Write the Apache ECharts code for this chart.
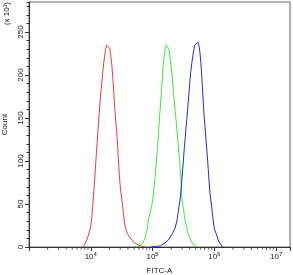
<!DOCTYPE html>
<html>
<head>
<meta charset="utf-8">
<script src="https://cdn.jsdelivr.net/npm/echarts@6/dist/echarts.min.js"></script>
<style>
html,body{margin:0;padding:0;background:#fff;}
#chart{width:293px;height:275px;}
</style>
</head>
<body>
<div id="chart"></div>
<script>
// FITC-A values (x) and counts (y, in units of x10^1)
var redX = [7440,8010,8630,9290,10000,10380,10770,11170,11590,12030,12490,12960,13440,13950,14480,15020,15590,16180,16790,17420,18080,18760,19470,20200,20960,21750,22570,23420,24300,25220,26170,27150,28180,29240,30340,31480,32670,33900,35140,36460,39260,43860,48990,54740,63470,76360];
var redY = [0,3.5,8.1,15.1,24.4,33.7,48.8,64,80.2,97.7,115.1,131.4,147.7,164,177.9,190.7,202.3,214,222.1,230.2,234.9,237.2,236,231.4,223.3,214,200,182.6,165.1,147.7,136,118.6,97.7,80.2,66.3,58.1,48.8,37.2,29.1,22.1,15.1,10.5,5.8,3.5,1.2,0];

var greenX = [54740,63470,70910,76360,82210,85310,91850,98890,102600,106500,110500,114700,119000,123500,128100,133000,138000,143200,148600,154200,160000,166000,172300,178700,185500,192500,199700,207300,215100,223200,231600,240300,249400,258800,268500,278600,289100,300000,311300,323100,335200,347900,374600,403300,434300,467600,522500];
var greenY = [0,1.2,5.8,11.6,22.1,31.4,40.7,51.2,59.3,72.1,83.7,97.7,112.8,127.9,144.2,161.6,176.7,194.2,210.5,222.1,230.2,234.9,236,234.9,229.1,219.8,210.5,200,184.9,170.9,159.3,147.7,133.7,120.9,107,95.3,75.6,54.7,46.5,39.5,31.4,26.7,16.3,10.5,4.7,2.3,0];

var blueX = [91850,110500,133000,148600,166000,185500,207300,231600,249400,258800,268500,278600,289100,300000,311300,323100,335200,347900,361000,374600,388700,403300,418500,434300,450700,467600,485200,503500,522500,542200,562600,583800,605800,628600,652300,676900,702400,728900,756300,784800,814400,845100,876900,909900,944200,979800,1016800,1092600,1133700,1220500,1364000];
var blueY = [0,0.5,1.2,3.5,5.8,9.3,15.1,22.1,31.4,39.5,47.7,54.7,66.3,80.2,95.3,110.5,124.4,138.4,151.2,165.1,179.1,194.2,205.8,215.1,223.3,230.2,234.9,233.7,237.2,238.4,234.9,226.7,214,196.5,176.7,157,141.9,126.7,112.8,97.7,80.2,64,54.7,45.3,34.9,25.6,19.8,14,9.3,4.7,0];

var minorTickValues = [2000,3000,4000,5000,6000,7000,8000,9000,20000,30000,40000,50000,60000,70000,80000,90000,200000,300000,400000,500000,600000,700000,800000,900000,2000000,3000000,4000000,5000000,6000000,7000000,8000000,9000000];
var xLabelExponents = [4,5,6,7];

function zip(xs, ys){ return xs.map(function(x,i){ return [x, ys[i]]; }); }

var chart = echarts.init(document.getElementById('chart'), null, {renderer:'canvas'});
var font = 'Liberation Sans, Arial, sans-serif';
chart.setOption({
  animation: false,
  textStyle: {fontFamily: font},
  grid: {left: 29, right: 3, top: 2, bottom: 28, show: true, borderColor: '#666', borderWidth: 1, containLabel: false, outerBoundsMode: 'none'},
  xAxis: {
    type: 'log', logBase: 10, min: 1000, max: 16777216,
    name: 'FITC-A', nameLocation: 'middle', nameGap: 20,
    nameTextStyle: {fontSize: 8, color: '#222', fontFamily: font},
    axisLine: {show: true, onZero: false, lineStyle: {color: '#333', width: 1}},
    axisTick: {show: true, length: 4, lineStyle: {color: '#333'}},
    splitLine: {show: false},
    axisLabel: {
      margin: 4, hideOverlap: false,
      formatter: function(v){
        var e = Math.round(Math.log10(v));
        if (xLabelExponents.indexOf(e) < 0 || Math.abs(Math.log10(v) - e) > 0.01) return '';
        return '{b|10}{s|' + e + '}';
      },
      rich: {
        b: {fontSize: 8, color: '#222', fontFamily: font},
        s: {fontSize: 6, color: '#222', fontFamily: font, padding: [0,0,5,0]}
      }
    }
  },
  yAxis: [{
    type: 'value', min: 0, max: 285, interval: 50,
    name: 'Count', nameLocation: 'middle', nameGap: 20, nameRotate: 90,
    nameTextStyle: {fontSize: 8, color: '#222', fontFamily: font},
    axisLine: {show: true, lineStyle: {color: '#333', width: 1}},
    axisTick: {show: true, length: 4, lineStyle: {color: '#333'}},
    splitLine: {show: false},
    axisLabel: {rotate: 90, hideOverlap: false, showMaxLabel: false, fontSize: 8, color: '#222', margin: 4, fontFamily: font,
      formatter: function(v){ return v % 50 === 0 ? String(v) : ''; }}
  }, {
    type: 'value', min: 0, max: 285, interval: 10, position: 'left',
    axisLine: {show: false},
    axisTick: {show: true, length: 2.5, lineStyle: {color: '#333'}},
    axisLabel: {show: false},
    splitLine: {show: false}
  }],
  graphic: [{
    type: 'text', left: 3, top: 2, rotation: Math.PI/2,
    style: {text: '(x 10\u00B9)', fontSize: 8, fill: '#222', font: '8px ' + font}
  }],
  series: [
    {type: 'line', data: zip(redX, redY), showSymbol: false, lineStyle: {color: '#e8403c', width: 1}, itemStyle: {color: '#e8403c'}},
    {type: 'line', data: zip(greenX, greenY), showSymbol: false, lineStyle: {color: '#3fe83f', width: 1}, itemStyle: {color: '#3fe83f'}},
    {type: 'line', data: zip(blueX, blueY), showSymbol: false, lineStyle: {color: '#2b2bd8', width: 1}, itemStyle: {color: '#2b2bd8'}},
    {type: 'scatter', data: minorTickValues.map(function(v){ return [v, 0]; }), symbol: 'rect', symbolSize: [1, 2.5], symbolOffset: [0, 1.5], clip: false, z: 5, itemStyle: {color: '#333'}, silent: true}
  ]
});
</script>
</body>
</html>
